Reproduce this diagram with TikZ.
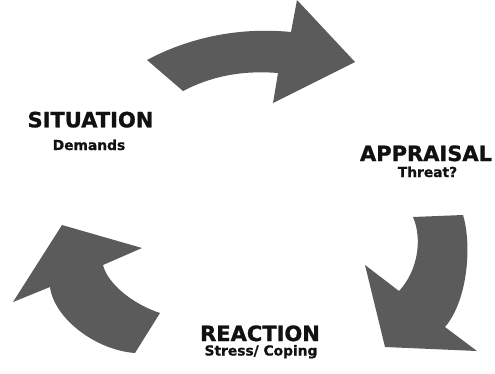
\documentclass[tikz,border=0pt]{standalone}
\usepackage{fontspec}
\setmainfont{DejaVu Sans}
\newfontfamily\heavyfont[FakeBold=1.2]{DejaVu Sans Bold}
\newfontfamily\subfont[FakeBold=0.8]{DejaVu Sans Bold}
\definecolor{arrowgray}{HTML}{5B5B5B}
\definecolor{txt}{HTML}{111111}
\begin{document}
\begin{tikzpicture}[x=1pt,y=-1pt,
  bigarrow/.style={fill=arrowgray,draw=none},
  title/.style={anchor=base,inner sep=0pt,text=txt,font=\heavyfont\fontsize{21}{24}\selectfont},
  sub/.style={anchor=base,inner sep=0pt,text=txt,font=\subfont\fontsize{13.8}{16}\selectfont}]
\useasboundingbox (0,0) rectangle (495,373);
% top arrow
\fill[bigarrow] (147,60) .. controls (190,37) and (240,27) .. (291,32)
  -- (297,0) -- (355,62) -- (273,103) -- (278,73)
  .. controls (240,70) and (210,77) .. (183,91) -- cycle;
% right arrow
\fill[bigarrow] (413,217) -- (463,215)
  .. controls (472,245) and (468,300) .. (445,327)
  -- (477,351) -- (385,347) -- (365,265) -- (399,291)
  .. controls (417,272) and (423,240) .. (413,217) -- cycle;
% left arrow
\fill[bigarrow] (135,353) -- (160,313)
  .. controls (135,305) and (108,285) .. (103,265)
  -- (142,248) -- (62,225) -- (13,302) -- (50,287)
  .. controls (54,318) and (95,350) .. (135,353) -- cycle;
% labels
\node[title] (sit) at (90.5,127.3) {SITUATION};
\node[sub] (dem) at (89,150) {Demands};
\node[title] (app) at (426,161) {APPRAISAL};
\node[sub] (thr) at (427.5,177) {Threat?};
\node[title] (rea) at (260,341) {REACTION};
\node[sub] (str) at (261,355.5) {Stress/ Coping};
\end{tikzpicture}
\end{document}
